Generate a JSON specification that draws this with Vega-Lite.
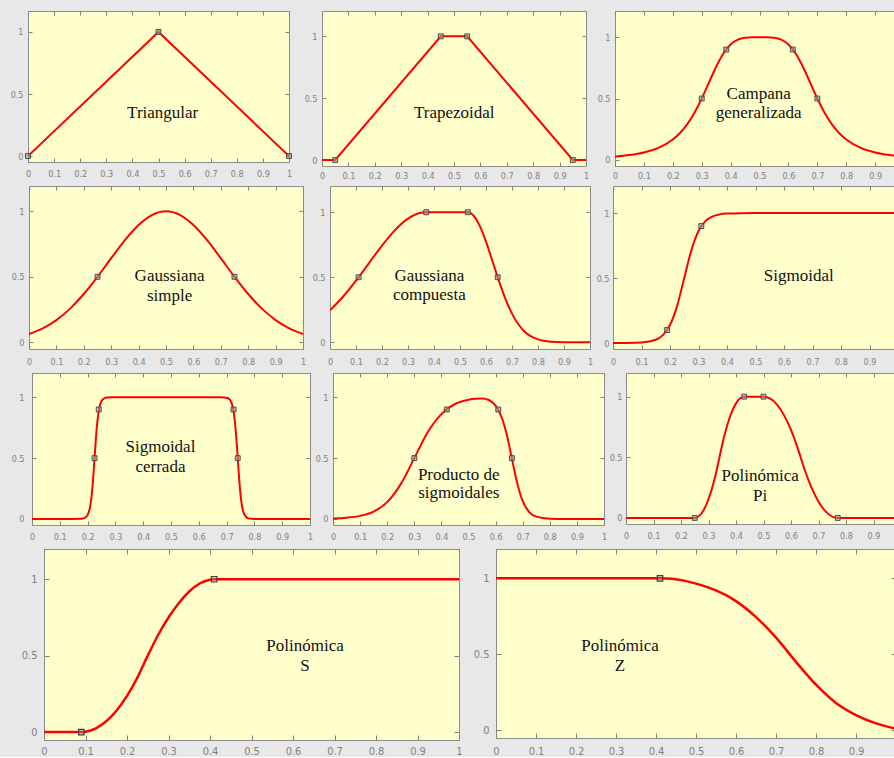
{
  "$schema": "https://vega.github.io/schema/vega-lite/v6.json",
  "padding": 0,
  "background": "#e8e8e8",
  "spacing": 0,
  "config": {
    "view": {"fill": "#ffffcc", "stroke": "#8c8c8c", "strokeWidth": 1},
    "axis": {"domain": false, "grid": false, "tickSize": -4, "tickColor": "#808080", "tickWidth": 1, "labelColor": "#7f7f7f", "labelFont": "Liberation Sans Narrow, DejaVu Sans Condensed, Liberation Sans, sans-serif", "labelFontSize": 9, "labelOverlap": false, "maxExtent": 300}
  },
  "datasets": {
    "p1c": [{"x": 0, "y": 0}, {"x": 0.5, "y": 1}, {"x": 1, "y": 0}],
    "p1p": [{"x": 0, "y": 0}, {"x": 0.5, "y": 1}, {"x": 1, "y": 0}],
    "p2c": [{"x": 0, "y": 0}, {"x": 0.05, "y": 0}, {"x": 0.45, "y": 1}, {"x": 0.55, "y": 1}, {"x": 0.95, "y": 0}, {"x": 1, "y": 0}],
    "p2p": [{"x": 0.05, "y": 0}, {"x": 0.45, "y": 1}, {"x": 0.55, "y": 1}, {"x": 0.95, "y": 0}],
    "p3c": [{"x": 0, "y": 0.025}, {"x": 0.05, "y": 0.0376}, {"x": 0.1, "y": 0.0588}, {"x": 0.15, "y": 0.0963}, {"x": 0.2, "y": 0.165}, {"x": 0.225, "y": 0.2186}, {"x": 0.25, "y": 0.2906}, {"x": 0.275, "y": 0.3844}, {"x": 0.3, "y": 0.5}, {"x": 0.325, "y": 0.6305}, {"x": 0.35, "y": 0.7597}, {"x": 0.375, "y": 0.8676}, {"x": 0.4, "y": 0.9412}, {"x": 0.425, "y": 0.9806}, {"x": 0.45, "y": 0.9961}, {"x": 0.475, "y": 0.9998}, {"x": 0.5, "y": 1}, {"x": 0.525, "y": 0.9998}, {"x": 0.55, "y": 0.9961}, {"x": 0.575, "y": 0.9806}, {"x": 0.6, "y": 0.9412}, {"x": 0.625, "y": 0.8676}, {"x": 0.65, "y": 0.7597}, {"x": 0.675, "y": 0.6305}, {"x": 0.7, "y": 0.5}, {"x": 0.725, "y": 0.3844}, {"x": 0.75, "y": 0.2906}, {"x": 0.775, "y": 0.2186}, {"x": 0.8, "y": 0.165}, {"x": 0.85, "y": 0.0963}, {"x": 0.9, "y": 0.0588}, {"x": 0.95, "y": 0.0376}, {"x": 1, "y": 0.025}],
    "p3p": [{"x": 0.3, "y": 0.5}, {"x": 0.385, "y": 0.9}, {"x": 0.615, "y": 0.9}, {"x": 0.7, "y": 0.5}],
    "p4c": [{"x": 0, "y": 0.0625}, {"x": 0.05, "y": 0.1059}, {"x": 0.1, "y": 0.1697}, {"x": 0.15, "y": 0.2571}, {"x": 0.2, "y": 0.3687}, {"x": 0.25, "y": 0.5}, {"x": 0.3, "y": 0.6418}, {"x": 0.35, "y": 0.7793}, {"x": 0.4, "y": 0.895}, {"x": 0.45, "y": 0.9727}, {"x": 0.5, "y": 1}, {"x": 0.55, "y": 0.9727}, {"x": 0.6, "y": 0.895}, {"x": 0.65, "y": 0.7793}, {"x": 0.7, "y": 0.6418}, {"x": 0.75, "y": 0.5}, {"x": 0.8, "y": 0.3687}, {"x": 0.85, "y": 0.2571}, {"x": 0.9, "y": 0.1697}, {"x": 0.95, "y": 0.1059}, {"x": 1, "y": 0.0625}],
    "p4p": [{"x": 0.25, "y": 0.5}, {"x": 0.75, "y": 0.5}],
    "p5c": [{"x": 0, "y": 0.2457}, {"x": 0.05, "y": 0.35}, {"x": 0.1, "y": 0.4736}, {"x": 0.15, "y": 0.6089}, {"x": 0.2, "y": 0.7436}, {"x": 0.25, "y": 0.8628}, {"x": 0.3, "y": 0.951}, {"x": 0.35, "y": 0.9959}, {"x": 0.37, "y": 1}, {"x": 0.53, "y": 1}, {"x": 0.55, "y": 0.9792}, {"x": 0.575, "y": 0.8993}, {"x": 0.6, "y": 0.7735}, {"x": 0.625, "y": 0.6231}, {"x": 0.65, "y": 0.4701}, {"x": 0.675, "y": 0.3322}, {"x": 0.7, "y": 0.2199}, {"x": 0.725, "y": 0.1363}, {"x": 0.75, "y": 0.0791}, {"x": 0.8, "y": 0.0219}, {"x": 0.85, "y": 0.0047}, {"x": 0.9, "y": 0.0008}, {"x": 0.95, "y": 0}, {"x": 1, "y": 0}],
    "p5p": [{"x": 0.11, "y": 0.5}, {"x": 0.37, "y": 1}, {"x": 0.53, "y": 1}, {"x": 0.645, "y": 0.5}],
    "p6c": [{"x": 0, "y": 0.0001}, {"x": 0.05, "y": 0.0007}, {"x": 0.1, "y": 0.0041}, {"x": 0.15, "y": 0.025}, {"x": 0.175, "y": 0.0604}, {"x": 0.2, "y": 0.1382}, {"x": 0.225, "y": 0.286}, {"x": 0.25, "y": 0.5}, {"x": 0.275, "y": 0.714}, {"x": 0.3, "y": 0.8618}, {"x": 0.325, "y": 0.9396}, {"x": 0.35, "y": 0.975}, {"x": 0.375, "y": 0.9898}, {"x": 0.4, "y": 0.9959}, {"x": 0.45, "y": 0.9993}, {"x": 0.5, "y": 0.9999}, {"x": 0.6, "y": 1}, {"x": 1, "y": 1}],
    "p6p": [{"x": 0.19, "y": 0.1}, {"x": 0.31, "y": 0.9}],
    "p7c": [{"x": 0, "y": 0}, {"x": 0.1, "y": 0}, {"x": 0.18, "y": 0.0021}, {"x": 0.19, "y": 0.0082}, {"x": 0.2, "y": 0.0315}, {"x": 0.205, "y": 0.0606}, {"x": 0.21, "y": 0.1135}, {"x": 0.215, "y": 0.2026}, {"x": 0.22, "y": 0.3351}, {"x": 0.225, "y": 0.5}, {"x": 0.23, "y": 0.6649}, {"x": 0.235, "y": 0.7974}, {"x": 0.24, "y": 0.8865}, {"x": 0.245, "y": 0.9393}, {"x": 0.25, "y": 0.9685}, {"x": 0.26, "y": 0.9918}, {"x": 0.27, "y": 0.9979}, {"x": 0.29, "y": 0.9999}, {"x": 0.5, "y": 1}, {"x": 0.68, "y": 0.9999}, {"x": 0.7, "y": 0.9958}, {"x": 0.71, "y": 0.9839}, {"x": 0.715, "y": 0.9685}, {"x": 0.72, "y": 0.9393}, {"x": 0.725, "y": 0.8865}, {"x": 0.73, "y": 0.7974}, {"x": 0.735, "y": 0.6649}, {"x": 0.74, "y": 0.5}, {"x": 0.745, "y": 0.3351}, {"x": 0.75, "y": 0.2026}, {"x": 0.755, "y": 0.1135}, {"x": 0.76, "y": 0.0606}, {"x": 0.77, "y": 0.0161}, {"x": 0.78, "y": 0.0042}, {"x": 0.8, "y": 0.0003}, {"x": 1, "y": 0}],
    "p7p": [{"x": 0.225, "y": 0.5}, {"x": 0.24, "y": 0.9}, {"x": 0.725, "y": 0.9}, {"x": 0.74, "y": 0.5}],
    "p8c": [{"x": 0, "y": 0.0041}, {"x": 0.05, "y": 0.0102}, {"x": 0.1, "y": 0.0251}, {"x": 0.15, "y": 0.0604}, {"x": 0.2, "y": 0.1383}, {"x": 0.25, "y": 0.286}, {"x": 0.3, "y": 0.5}, {"x": 0.35, "y": 0.714}, {"x": 0.4, "y": 0.8617}, {"x": 0.45, "y": 0.945}, {"x": 0.5, "y": 0.98}, {"x": 0.525, "y": 0.988}, {"x": 0.55, "y": 0.99}, {"x": 0.575, "y": 0.978}, {"x": 0.6, "y": 0.932}, {"x": 0.625, "y": 0.82}, {"x": 0.64, "y": 0.704}, {"x": 0.66, "y": 0.498}, {"x": 0.675, "y": 0.34}, {"x": 0.69, "y": 0.211}, {"x": 0.7, "y": 0.147}, {"x": 0.725, "y": 0.0545}, {"x": 0.75, "y": 0.0189}, {"x": 0.8, "y": 0.0021}, {"x": 0.85, "y": 0.0002}, {"x": 0.9, "y": 0}, {"x": 1, "y": 0}],
    "p8p": [{"x": 0.3, "y": 0.5}, {"x": 0.42, "y": 0.9}, {"x": 0.61, "y": 0.9}, {"x": 0.66, "y": 0.5}],
    "p9c": [{"x": 0, "y": 0}, {"x": 0.25, "y": 0}, {"x": 0.275, "y": 0.0386}, {"x": 0.3, "y": 0.1543}, {"x": 0.325, "y": 0.3472}, {"x": 0.34, "y": 0.5}, {"x": 0.35, "y": 0.605}, {"x": 0.375, "y": 0.8133}, {"x": 0.4, "y": 0.9444}, {"x": 0.415, "y": 0.9861}, {"x": 0.43, "y": 1}, {"x": 0.5, "y": 1}, {"x": 0.525, "y": 0.9829}, {"x": 0.55, "y": 0.9314}, {"x": 0.575, "y": 0.8457}, {"x": 0.6, "y": 0.7257}, {"x": 0.625, "y": 0.5713}, {"x": 0.635, "y": 0.5}, {"x": 0.65, "y": 0.395}, {"x": 0.675, "y": 0.2476}, {"x": 0.7, "y": 0.1344}, {"x": 0.725, "y": 0.0556}, {"x": 0.75, "y": 0.011}, {"x": 0.77, "y": 0}, {"x": 1, "y": 0}],
    "p9p": [{"x": 0.25, "y": 0}, {"x": 0.43, "y": 1}, {"x": 0.5, "y": 1}, {"x": 0.77, "y": 0}],
    "p10c": [{"x": 0, "y": 0}, {"x": 0.09, "y": 0}, {"x": 0.1, "y": 0.002}, {"x": 0.125, "y": 0.0239}, {"x": 0.15, "y": 0.0703}, {"x": 0.175, "y": 0.1411}, {"x": 0.2, "y": 0.2363}, {"x": 0.225, "y": 0.356}, {"x": 0.25, "y": 0.5}, {"x": 0.275, "y": 0.635}, {"x": 0.3, "y": 0.75}, {"x": 0.325, "y": 0.845}, {"x": 0.35, "y": 0.92}, {"x": 0.375, "y": 0.972}, {"x": 0.4, "y": 0.997}, {"x": 0.41, "y": 1}, {"x": 1, "y": 1}],
    "p10p": [{"x": 0.09, "y": 0}, {"x": 0.41, "y": 1}],
    "p11c": [{"x": 0, "y": 1}, {"x": 0.41, "y": 1}, {"x": 0.44, "y": 0.997}, {"x": 0.47, "y": 0.985}, {"x": 0.5, "y": 0.965}, {"x": 0.55, "y": 0.92}, {"x": 0.6, "y": 0.85}, {"x": 0.65, "y": 0.745}, {"x": 0.7, "y": 0.61}, {"x": 0.75, "y": 0.45}, {"x": 0.8, "y": 0.3}, {"x": 0.85, "y": 0.18}, {"x": 0.9, "y": 0.1}, {"x": 0.95, "y": 0.045}, {"x": 1, "y": 0.01}],
    "p11p": [{"x": 0.41, "y": 1}]
  },
  "vconcat": [
    {
      "spacing": 0,
      "hconcat": [
        {"width": 7, "height": 10, "data": {"values": []}, "mark": {"type": "point", "opacity": 0}, "encoding": {}, "view": {"fill": null, "stroke": null}},
        {
          "width": 261, "height": 151,
          "layer": [
            {"data": {"name": "p1c"}, "mark": {"type": "line", "color": "#ff0000", "strokeWidth": 2, "clip": true, "interpolate": "linear"},
             "encoding": {
               "x": {"field": "x", "type": "quantitative", "scale": {"domain": [0, 1], "nice": false, "zero": false}, "axis": {"orient": "bottom", "title": null, "values": [0, 0.1, 0.2, 0.3, 0.4, 0.5, 0.6, 0.7, 0.8, 0.9, 1], "format": ".1~f", "labelFlush": false, "labelPadding": 11.2, "minExtent": 0}},
               "y": {"field": "y", "type": "quantitative", "scale": {"domain": [-0.048, 1.169], "nice": false, "zero": false}, "axis": {"orient": "left", "title": null, "values": [0, 0.5, 1], "format": ".1~f", "labelPadding": 9, "minExtent": 20}}}},
            {"data": {"name": "p1p"}, "mark": {"type": "point", "shape": "square", "size": 24, "filled": true, "fill": "#9a9a88", "fillOpacity": 0.6, "stroke": "#4d4d4d", "strokeWidth": 1},
             "encoding": {
               "x": {"field": "x", "type": "quantitative", "scale": {"domain": [0, 1], "nice": false, "zero": false}, "axis": {"orient": "top", "title": null, "labels": false, "values": [0, 0.1, 0.2, 0.3, 0.4, 0.5, 0.6, 0.7, 0.8, 0.9, 1], "minExtent": 10}},
               "y": {"field": "y", "type": "quantitative", "scale": {"domain": [-0.048, 1.169], "nice": false, "zero": false}, "axis": {"orient": "right", "title": null, "labels": false, "values": [0, 0.5, 1], "minExtent": 6}}}},
            {"data": {"values": [{"label": "Triangular"}]}, "mark": {"type": "text", "font": "Liberation Serif", "fontSize": 17, "color": "#111111", "align": "center", "baseline": "alphabetic", "lineBreak": "\n", "lineHeight": 19.5},
             "encoding": {
               "x": {"datum": 0.516, "type": "quantitative", "scale": {"domain": [0, 1], "nice": false, "zero": false}, "axis": null},
               "y": {"datum": 0.304, "type": "quantitative", "scale": {"domain": [-0.048, 1.169], "nice": false, "zero": false}, "axis": null},
               "text": {"field": "label"}}}
          ]
        },
        {
          "width": 264, "height": 155,
          "layer": [
            {"data": {"name": "p2c"}, "mark": {"type": "line", "color": "#ff0000", "strokeWidth": 2, "clip": true, "interpolate": "linear"},
             "encoding": {
               "x": {"field": "x", "type": "quantitative", "scale": {"domain": [0, 1], "nice": false, "zero": false}, "axis": {"orient": "bottom", "title": null, "values": [0, 0.1, 0.2, 0.3, 0.4, 0.5, 0.6, 0.7, 0.8, 0.9, 1], "format": ".1~f", "labelFlush": false, "labelPadding": 9.2, "minExtent": 16}},
               "y": {"field": "y", "type": "quantitative", "scale": {"domain": [-0.0485, 1.205], "nice": false, "zero": false}, "axis": {"orient": "left", "title": null, "values": [0, 0.5, 1], "format": ".1~f", "labelPadding": 9, "minExtent": 25}}}},
            {"data": {"name": "p2p"}, "mark": {"type": "point", "shape": "square", "size": 24, "filled": true, "fill": "#9a9a88", "fillOpacity": 0.6, "stroke": "#4d4d4d", "strokeWidth": 1},
             "encoding": {
               "x": {"field": "x", "type": "quantitative", "scale": {"domain": [0, 1], "nice": false, "zero": false}, "axis": {"orient": "top", "title": null, "labels": false, "values": [0, 0.1, 0.2, 0.3, 0.4, 0.5, 0.6, 0.7, 0.8, 0.9, 1], "minExtent": 10}},
               "y": {"field": "y", "type": "quantitative", "scale": {"domain": [-0.0485, 1.205], "nice": false, "zero": false}, "axis": {"orient": "right", "title": null, "labels": false, "values": [0, 0.5, 1], "minExtent": 6}}}},
            {"data": {"values": [{"label": "Trapezoidal"}]}, "mark": {"type": "text", "font": "Liberation Serif", "fontSize": 17, "color": "#111111", "align": "center", "baseline": "alphabetic", "lineBreak": "\n", "lineHeight": 19.5},
             "encoding": {
               "x": {"datum": 0.501, "type": "quantitative", "scale": {"domain": [0, 1], "nice": false, "zero": false}, "axis": null},
               "y": {"datum": 0.339, "type": "quantitative", "scale": {"domain": [-0.0485, 1.205], "nice": false, "zero": false}, "axis": null},
               "text": {"field": "label"}}}
          ]
        },
        {
          "width": 283, "height": 155,
          "layer": [
            {"data": {"name": "p3c"}, "mark": {"type": "line", "color": "#ff0000", "strokeWidth": 2, "clip": true, "interpolate": "monotone"},
             "encoding": {
               "x": {"field": "x", "type": "quantitative", "scale": {"domain": [0, 0.979], "nice": false, "zero": false}, "axis": {"orient": "bottom", "title": null, "values": [0, 0.1, 0.2, 0.3, 0.4, 0.5, 0.6, 0.7, 0.8, 0.9], "format": ".1~f", "labelFlush": false, "labelPadding": 9.9, "minExtent": 16}},
               "y": {"field": "y", "type": "quantitative", "scale": {"domain": [-0.0515, 1.215], "nice": false, "zero": false}, "axis": {"orient": "left", "title": null, "values": [0, 0.5, 1], "format": ".1~f", "labelPadding": 9, "minExtent": 21}}}},
            {"data": {"name": "p3p"}, "mark": {"type": "point", "shape": "square", "size": 24, "filled": true, "fill": "#9a9a88", "fillOpacity": 0.6, "stroke": "#4d4d4d", "strokeWidth": 1},
             "encoding": {
               "x": {"field": "x", "type": "quantitative", "scale": {"domain": [0, 0.979], "nice": false, "zero": false}, "axis": {"orient": "top", "title": null, "labels": false, "values": [0, 0.1, 0.2, 0.3, 0.4, 0.5, 0.6, 0.7, 0.8, 0.9], "minExtent": 10}},
               "y": {"field": "y", "type": "quantitative", "scale": {"domain": [-0.0515, 1.215], "nice": false, "zero": false}, "axis": {"orient": "right", "title": null, "labels": false, "values": [0, 0.5, 1], "minExtent": 0}}}},
            {"data": {"values": [{"label": "Campana\ngeneralizada"}]}, "mark": {"type": "text", "font": "Liberation Serif", "fontSize": 17, "color": "#111111", "align": "center", "baseline": "alphabetic", "lineBreak": "\n", "lineHeight": 19},
             "encoding": {
               "x": {"datum": 0.497, "type": "quantitative", "scale": {"domain": [0, 0.979], "nice": false, "zero": false}, "axis": null},
               "y": {"datum": 0.496, "type": "quantitative", "scale": {"domain": [-0.0515, 1.215], "nice": false, "zero": false}, "axis": null},
               "text": {"field": "label"}}}
          ]
        }
      ]
    },
    {
      "spacing": 0,
      "hconcat": [
        {"width": 8, "height": 10, "data": {"values": []}, "mark": {"type": "point", "opacity": 0}, "encoding": {}, "view": {"fill": null, "stroke": null}},
        {
          "width": 274, "height": 163,
          "layer": [
            {"data": {"name": "p4c"}, "mark": {"type": "line", "color": "#ff0000", "strokeWidth": 2, "clip": true, "interpolate": "monotone"},
             "encoding": {
               "x": {"field": "x", "type": "quantitative", "scale": {"domain": [0, 1], "nice": false, "zero": false}, "axis": {"orient": "bottom", "title": null, "values": [0, 0.1, 0.2, 0.3, 0.4, 0.5, 0.6, 0.7, 0.8, 0.9, 1], "format": ".1~f", "labelFlush": false, "labelPadding": 12.7, "minExtent": 20}},
               "y": {"field": "y", "type": "quantitative", "scale": {"domain": [-0.051, 1.193], "nice": false, "zero": false}, "axis": {"orient": "left", "title": null, "values": [0, 0.5, 1], "format": ".1~f", "labelPadding": 9, "minExtent": 20}}}},
            {"data": {"name": "p4p"}, "mark": {"type": "point", "shape": "square", "size": 24, "filled": true, "fill": "#9a9a88", "fillOpacity": 0.6, "stroke": "#4d4d4d", "strokeWidth": 1},
             "encoding": {
               "x": {"field": "x", "type": "quantitative", "scale": {"domain": [0, 1], "nice": false, "zero": false}, "axis": {"orient": "top", "title": null, "labels": false, "values": [0, 0.1, 0.2, 0.3, 0.4, 0.5, 0.6, 0.7, 0.8, 0.9, 1], "minExtent": 2}},
               "y": {"field": "y", "type": "quantitative", "scale": {"domain": [-0.051, 1.193], "nice": false, "zero": false}, "axis": {"orient": "right", "title": null, "labels": false, "values": [0, 0.5, 1], "minExtent": 6}}}},
            {"data": {"values": [{"label": "Gaussiana\nsimple"}]}, "mark": {"type": "text", "font": "Liberation Serif", "fontSize": 17, "color": "#111111", "align": "center", "baseline": "alphabetic", "lineBreak": "\n", "lineHeight": 19.5},
             "encoding": {
               "x": {"datum": 0.513, "type": "quantitative", "scale": {"domain": [0, 1], "nice": false, "zero": false}, "axis": null},
               "y": {"datum": 0.466, "type": "quantitative", "scale": {"domain": [-0.051, 1.193], "nice": false, "zero": false}, "axis": null},
               "text": {"field": "label"}}}
          ]
        },
        {
          "width": 260, "height": 163,
          "layer": [
            {"data": {"name": "p5c"}, "mark": {"type": "line", "color": "#ff0000", "strokeWidth": 2, "clip": true, "interpolate": "monotone"},
             "encoding": {
               "x": {"field": "x", "type": "quantitative", "scale": {"domain": [0, 1], "nice": false, "zero": false}, "axis": {"orient": "bottom", "title": null, "values": [0, 0.1, 0.2, 0.3, 0.4, 0.5, 0.6, 0.7, 0.8, 0.9, 1], "format": ".1~f", "labelFlush": false, "labelPadding": 12.7, "minExtent": 20}},
               "y": {"field": "y", "type": "quantitative", "scale": {"domain": [-0.052, 1.202], "nice": false, "zero": false}, "axis": {"orient": "left", "title": null, "values": [0, 0.5, 1], "format": ".1~f", "labelPadding": 9, "minExtent": 19}}}},
            {"data": {"name": "p5p"}, "mark": {"type": "point", "shape": "square", "size": 24, "filled": true, "fill": "#9a9a88", "fillOpacity": 0.6, "stroke": "#4d4d4d", "strokeWidth": 1},
             "encoding": {
               "x": {"field": "x", "type": "quantitative", "scale": {"domain": [0, 1], "nice": false, "zero": false}, "axis": {"orient": "top", "title": null, "labels": false, "values": [0, 0.1, 0.2, 0.3, 0.4, 0.5, 0.6, 0.7, 0.8, 0.9, 1], "minExtent": 2}},
               "y": {"field": "y", "type": "quantitative", "scale": {"domain": [-0.052, 1.202], "nice": false, "zero": false}, "axis": {"orient": "right", "title": null, "labels": false, "values": [0, 0.5, 1], "minExtent": 4}}}},
            {"data": {"values": [{"label": "Gaussiana\ncompuesta"}]}, "mark": {"type": "text", "font": "Liberation Serif", "fontSize": 17, "color": "#111111", "align": "center", "baseline": "alphabetic", "lineBreak": "\n", "lineHeight": 19},
             "encoding": {
               "x": {"datum": 0.382, "type": "quantitative", "scale": {"domain": [0, 1], "nice": false, "zero": false}, "axis": null},
               "y": {"datum": 0.469, "type": "quantitative", "scale": {"domain": [-0.052, 1.202], "nice": false, "zero": false}, "axis": null},
               "text": {"field": "label"}}}
          ]
        },
        {
          "width": 285, "height": 163,
          "layer": [
            {"data": {"name": "p6c"}, "mark": {"type": "line", "color": "#ff0000", "strokeWidth": 2, "clip": true, "interpolate": "monotone"},
             "encoding": {
               "x": {"field": "x", "type": "quantitative", "scale": {"domain": [0, 1], "nice": false, "zero": false}, "axis": {"orient": "bottom", "title": null, "values": [0, 0.1, 0.2, 0.3, 0.4, 0.5, 0.6, 0.7, 0.8, 0.9], "format": ".1~f", "labelFlush": false, "labelPadding": 12.7, "minExtent": 20}},
               "y": {"field": "y", "type": "quantitative", "scale": {"domain": [-0.046, 1.208], "nice": false, "zero": false}, "axis": {"orient": "left", "title": null, "values": [0, 0.5, 1], "format": ".1~f", "labelPadding": 8, "minExtent": 17}}}},
            {"data": {"name": "p6p"}, "mark": {"type": "point", "shape": "square", "size": 24, "filled": true, "fill": "#9a9a88", "fillOpacity": 0.6, "stroke": "#4d4d4d", "strokeWidth": 1},
             "encoding": {
               "x": {"field": "x", "type": "quantitative", "scale": {"domain": [0, 1], "nice": false, "zero": false}, "axis": {"orient": "top", "title": null, "labels": false, "values": [0, 0.1, 0.2, 0.3, 0.4, 0.5, 0.6, 0.7, 0.8, 0.9, 1], "minExtent": 2}},
               "y": {"field": "y", "type": "quantitative", "scale": {"domain": [-0.046, 1.208], "nice": false, "zero": false}, "axis": {"orient": "right", "title": null, "labels": false, "values": [0, 0.5, 1], "minExtent": 0}}}},
            {"data": {"values": [{"label": "Sigmoidal"}]}, "mark": {"type": "text", "font": "Liberation Serif", "fontSize": 17, "color": "#111111", "align": "center", "baseline": "alphabetic", "lineBreak": "\n", "lineHeight": 19.5},
             "encoding": {
               "x": {"datum": 0.652, "type": "quantitative", "scale": {"domain": [0, 1], "nice": false, "zero": false}, "axis": null},
               "y": {"datum": 0.475, "type": "quantitative", "scale": {"domain": [-0.046, 1.208], "nice": false, "zero": false}, "axis": null},
               "text": {"field": "label"}}}
          ]
        }
      ]
    },
    {
      "spacing": 0,
      "hconcat": [
        {"width": 9, "height": 10, "data": {"values": []}, "mark": {"type": "point", "opacity": 0}, "encoding": {}, "view": {"fill": null, "stroke": null}},
        {
          "width": 278, "height": 152,
          "layer": [
            {"data": {"name": "p7c"}, "mark": {"type": "line", "color": "#ff0000", "strokeWidth": 2, "clip": true, "interpolate": "monotone"},
             "encoding": {
               "x": {"field": "x", "type": "quantitative", "scale": {"domain": [0, 1], "nice": false, "zero": false}, "axis": {"orient": "bottom", "title": null, "values": [0, 0.1, 0.2, 0.3, 0.4, 0.5, 0.6, 0.7, 0.8, 0.9, 1], "format": ".1~f", "labelFlush": false, "labelPadding": 11.2, "minExtent": 20}},
               "y": {"field": "y", "type": "quantitative", "scale": {"domain": [-0.05, 1.2], "nice": false, "zero": false}, "axis": {"orient": "left", "title": null, "values": [0, 0.5, 1], "format": ".1~f", "labelPadding": 12, "minExtent": 22}}}},
            {"data": {"name": "p7p"}, "mark": {"type": "point", "shape": "square", "size": 24, "filled": true, "fill": "#9a9a88", "fillOpacity": 0.6, "stroke": "#4d4d4d", "strokeWidth": 1},
             "encoding": {
               "x": {"field": "x", "type": "quantitative", "scale": {"domain": [0, 1], "nice": false, "zero": false}, "axis": {"orient": "top", "title": null, "labels": false, "values": [0, 0.1, 0.2, 0.3, 0.4, 0.5, 0.6, 0.7, 0.8, 0.9, 1], "minExtent": 2}},
               "y": {"field": "y", "type": "quantitative", "scale": {"domain": [-0.05, 1.2], "nice": false, "zero": false}, "axis": {"orient": "right", "title": null, "labels": false, "values": [0, 0.5, 1], "minExtent": 3}}}},
            {"data": {"values": [{"label": "Sigmoidal\ncerrada"}]}, "mark": {"type": "text", "font": "Liberation Serif", "fontSize": 17, "color": "#111111", "align": "center", "baseline": "alphabetic", "lineBreak": "\n", "lineHeight": 20},
             "encoding": {
               "x": {"datum": 0.462, "type": "quantitative", "scale": {"domain": [0, 1], "nice": false, "zero": false}, "axis": null},
               "y": {"datum": 0.548, "type": "quantitative", "scale": {"domain": [-0.05, 1.2], "nice": false, "zero": false}, "axis": null},
               "text": {"field": "label"}}}
          ]
        },
        {
          "width": 271, "height": 152,
          "layer": [
            {"data": {"name": "p8c"}, "mark": {"type": "line", "color": "#ff0000", "strokeWidth": 2, "clip": true, "interpolate": "monotone"},
             "encoding": {
               "x": {"field": "x", "type": "quantitative", "scale": {"domain": [0, 1], "nice": false, "zero": false}, "axis": {"orient": "bottom", "title": null, "values": [0, 0.1, 0.2, 0.3, 0.4, 0.5, 0.6, 0.7, 0.8, 0.9, 1], "format": ".1~f", "labelFlush": false, "labelPadding": 11.2, "minExtent": 20}},
               "y": {"field": "y", "type": "quantitative", "scale": {"domain": [-0.05, 1.2], "nice": false, "zero": false}, "axis": {"orient": "left", "title": null, "values": [0, 0.5, 1], "format": ".1~f", "labelPadding": 9, "minExtent": 16}}}},
            {"data": {"name": "p8p"}, "mark": {"type": "point", "shape": "square", "size": 24, "filled": true, "fill": "#9a9a88", "fillOpacity": 0.6, "stroke": "#4d4d4d", "strokeWidth": 1},
             "encoding": {
               "x": {"field": "x", "type": "quantitative", "scale": {"domain": [0, 1], "nice": false, "zero": false}, "axis": {"orient": "top", "title": null, "labels": false, "values": [0, 0.1, 0.2, 0.3, 0.4, 0.5, 0.6, 0.7, 0.8, 0.9, 1], "minExtent": 2}},
               "y": {"field": "y", "type": "quantitative", "scale": {"domain": [-0.05, 1.2], "nice": false, "zero": false}, "axis": {"orient": "right", "title": null, "labels": false, "values": [0, 0.5, 1], "minExtent": 3}}}},
            {"data": {"values": [{"label": "Producto de\nsigmoidales"}]}, "mark": {"type": "text", "font": "Liberation Serif", "fontSize": 17, "color": "#111111", "align": "center", "baseline": "alphabetic", "lineBreak": "\n", "lineHeight": 18.5},
             "encoding": {
               "x": {"datum": 0.464, "type": "quantitative", "scale": {"domain": [0, 1], "nice": false, "zero": false}, "axis": null},
               "y": {"datum": 0.322, "type": "quantitative", "scale": {"domain": [-0.05, 1.2], "nice": false, "zero": false}, "axis": null},
               "text": {"field": "label"}}}
          ]
        },
        {
          "width": 275, "height": 151,
          "layer": [
            {"data": {"name": "p9c"}, "mark": {"type": "line", "color": "#ff0000", "strokeWidth": 2, "clip": true, "interpolate": "monotone"},
             "encoding": {
               "x": {"field": "x", "type": "quantitative", "scale": {"domain": [0, 1], "nice": false, "zero": false}, "axis": {"orient": "bottom", "title": null, "values": [0, 0.1, 0.2, 0.3, 0.4, 0.5, 0.6, 0.7, 0.8, 0.9], "format": ".1~f", "labelFlush": false, "labelPadding": 11.2, "minExtent": 20}},
               "y": {"field": "y", "type": "quantitative", "scale": {"domain": [-0.05, 1.195], "nice": false, "zero": false}, "axis": {"orient": "left", "title": null, "values": [0, 0.5, 1], "format": ".1~f", "labelPadding": 8, "minExtent": 16}}}},
            {"data": {"name": "p9p"}, "mark": {"type": "point", "shape": "square", "size": 24, "filled": true, "fill": "#9a9a88", "fillOpacity": 0.6, "stroke": "#4d4d4d", "strokeWidth": 1},
             "encoding": {
               "x": {"field": "x", "type": "quantitative", "scale": {"domain": [0, 1], "nice": false, "zero": false}, "axis": {"orient": "top", "title": null, "labels": false, "values": [0, 0.1, 0.2, 0.3, 0.4, 0.5, 0.6, 0.7, 0.8, 0.9, 1], "minExtent": 2}},
               "y": {"field": "y", "type": "quantitative", "scale": {"domain": [-0.05, 1.195], "nice": false, "zero": false}, "axis": {"orient": "right", "title": null, "labels": false, "values": [0, 0.5, 1], "minExtent": 0}}}},
            {"data": {"values": [{"label": "Polinómica\nPi"}]}, "mark": {"type": "text", "font": "Liberation Serif", "fontSize": 17, "color": "#111111", "align": "center", "baseline": "alphabetic", "lineBreak": "\n", "lineHeight": 20},
             "encoding": {
               "x": {"datum": 0.488, "type": "quantitative", "scale": {"domain": [0, 1], "nice": false, "zero": false}, "axis": null},
               "y": {"datum": 0.301, "type": "quantitative", "scale": {"domain": [-0.05, 1.195], "nice": false, "zero": false}, "axis": null},
               "text": {"field": "label"}}}
          ]
        }
      ]
    },
    {
      "spacing": 0,
      "hconcat": [
        {"width": 13, "height": 10, "data": {"values": []}, "mark": {"type": "point", "opacity": 0}, "encoding": {}, "view": {"fill": null, "stroke": null}},
        {
          "width": 415, "height": 191,
          "layer": [
            {"data": {"name": "p10c"}, "mark": {"type": "line", "color": "#ff0000", "strokeWidth": 2.5, "clip": true, "interpolate": "monotone"},
             "encoding": {
               "x": {"field": "x", "type": "quantitative", "scale": {"domain": [0, 1], "nice": false, "zero": false}, "axis": {"orient": "bottom", "title": null, "values": [0, 0.1, 0.2, 0.3, 0.4, 0.5, 0.6, 0.7, 0.8, 0.9, 1], "format": ".1~f", "labelFlush": false, "tickSize": -5, "labelFontSize": 11, "labelPadding": 10, "minExtent": 0}},
               "y": {"field": "y", "type": "quantitative", "scale": {"domain": [-0.052, 1.198], "nice": false, "zero": false}, "axis": {"orient": "left", "title": null, "values": [0, 0.5, 1], "format": ".1~f", "tickSize": -5, "labelFontSize": 11, "labelPadding": 12, "minExtent": 30}}}},
            {"data": {"name": "p10p"}, "mark": {"type": "point", "shape": "square", "size": 30, "filled": true, "fill": "#9a9a88", "fillOpacity": 0.4, "stroke": "#3d3d3d", "strokeWidth": 1.2},
             "encoding": {
               "x": {"field": "x", "type": "quantitative", "scale": {"domain": [0, 1], "nice": false, "zero": false}, "axis": {"orient": "top", "title": null, "labels": false, "tickSize": -5, "values": [0, 0.1, 0.2, 0.3, 0.4, 0.5, 0.6, 0.7, 0.8, 0.9, 1], "minExtent": 2}},
               "y": {"field": "y", "type": "quantitative", "scale": {"domain": [-0.052, 1.198], "nice": false, "zero": false}, "axis": {"orient": "right", "title": null, "labels": false, "tickSize": -5, "values": [0, 0.5, 1], "minExtent": 6}}}},
            {"data": {"values": [{"label": "Polinómica\nS"}]}, "mark": {"type": "text", "font": "Liberation Serif", "fontSize": 17, "color": "#111111", "align": "center", "baseline": "alphabetic", "lineBreak": "\n", "lineHeight": 19.5},
             "encoding": {
               "x": {"datum": 0.629, "type": "quantitative", "scale": {"domain": [0, 1], "nice": false, "zero": false}, "axis": null},
               "y": {"datum": 0.53, "type": "quantitative", "scale": {"domain": [-0.052, 1.198], "nice": false, "zero": false}, "axis": null},
               "text": {"field": "label"}}}
          ]
        },
        {
          "width": 400, "height": 189,
          "layer": [
            {"data": {"name": "p11c"}, "mark": {"type": "line", "color": "#ff0000", "strokeWidth": 2.5, "clip": true, "interpolate": "monotone"},
             "encoding": {
               "x": {"field": "x", "type": "quantitative", "scale": {"domain": [0, 1], "nice": false, "zero": false}, "axis": {"orient": "bottom", "title": null, "values": [0, 0.1, 0.2, 0.3, 0.4, 0.5, 0.6, 0.7, 0.8, 0.9], "format": ".1~f", "labelFlush": false, "tickSize": -5, "labelFontSize": 11, "labelPadding": 12, "minExtent": 0}},
               "y": {"field": "y", "type": "quantitative", "scale": {"domain": [-0.051, 1.193], "nice": false, "zero": false}, "axis": {"orient": "left", "title": null, "values": [0, 0.5, 1], "format": ".1~f", "tickSize": -5, "labelFontSize": 11, "labelPadding": 12, "minExtent": 29}}}},
            {"data": {"name": "p11p"}, "mark": {"type": "point", "shape": "square", "size": 30, "filled": true, "fill": "#9a9a88", "fillOpacity": 0.4, "stroke": "#3d3d3d", "strokeWidth": 1.2},
             "encoding": {
               "x": {"field": "x", "type": "quantitative", "scale": {"domain": [0, 1], "nice": false, "zero": false}, "axis": {"orient": "top", "title": null, "labels": false, "tickSize": -5, "values": [0, 0.1, 0.2, 0.3, 0.4, 0.5, 0.6, 0.7, 0.8, 0.9, 1], "minExtent": 2}},
               "y": {"field": "y", "type": "quantitative", "scale": {"domain": [-0.051, 1.193], "nice": false, "zero": false}, "axis": {"orient": "right", "title": null, "labels": false, "tickSize": -5, "values": [0, 0.5, 1], "minExtent": 0}}}},
            {"data": {"values": [{"label": "Polinómica\nZ"}]}, "mark": {"type": "text", "font": "Liberation Serif", "fontSize": 17, "color": "#111111", "align": "center", "baseline": "alphabetic", "lineBreak": "\n", "lineHeight": 20},
             "encoding": {
               "x": {"datum": 0.31, "type": "quantitative", "scale": {"domain": [0, 1], "nice": false, "zero": false}, "axis": null},
               "y": {"datum": 0.522, "type": "quantitative", "scale": {"domain": [-0.051, 1.193], "nice": false, "zero": false}, "axis": null},
               "text": {"field": "label"}}}
          ]
        }
      ]
    }
  ]
}
